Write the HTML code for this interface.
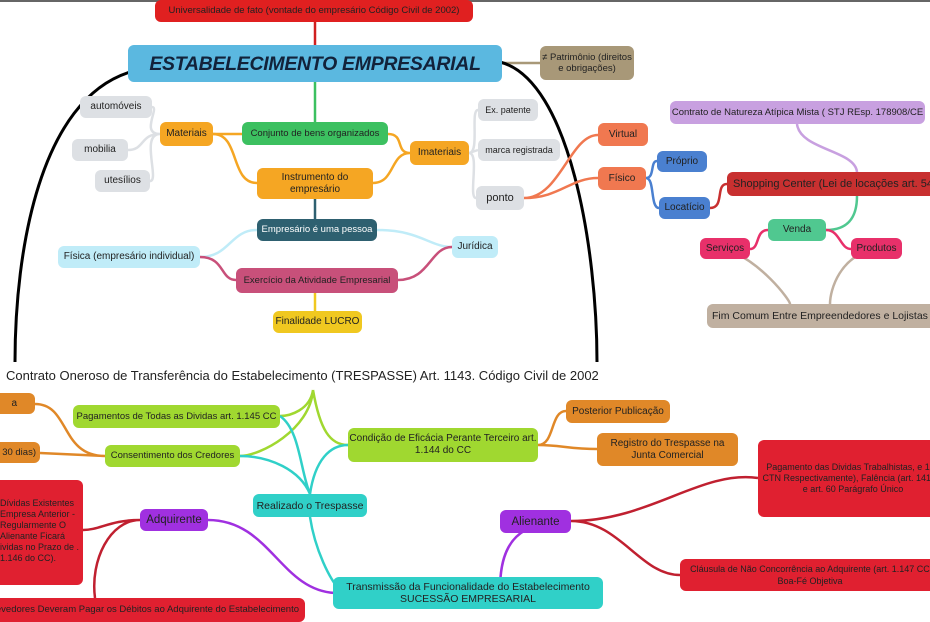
<!DOCTYPE html>
<html><head><meta charset="utf-8"><style>
html,body{margin:0;padding:0}
body{width:930px;height:620px;position:relative;overflow:hidden;background:#fff;font-family:"Liberation Sans",sans-serif}
.n{position:absolute;box-sizing:border-box;border-radius:6px;display:flex;align-items:center;justify-content:center;text-align:center;font-size:10px;line-height:12px;color:#222;white-space:nowrap;overflow:hidden}
svg{position:absolute;left:0;top:0}
</style></head><body>
<div style="position:absolute;left:0;top:0;width:930px;height:2px;background:#666"></div>
<svg width="930" height="620" fill="none" stroke-width="2.5">
<path d="M315 22 L315 46" stroke="#d02020"/>
<path d="M502 63 L540 63" stroke="#a89878"/>
<path d="M130 72 C40 100 15 250 15 362" stroke="#000" stroke-width="3"/>
<path d="M500 62 C570 80 597 250 597 362" stroke="#000" stroke-width="3"/>
<path d="M315 82 L315 122" stroke="#3cc060"/>
<path d="M315 199 L315 219" stroke="#2e6070"/>
<path d="M213 134 L242 134" stroke="#f5a623"/>
<path d="M213 134 C240 134 230 183 257 183" stroke="#f5a623"/>
<path d="M160 134 C140 134 160 107 152 107 M160 134 C140 134 145 150 128 150 M160 134 C140 134 160 181 150 181" stroke="#dde0e4"/>
<path d="M388 134 C405 134 395 153 410 153 M373 183 C395 183 390 153 410 153" stroke="#f5a623"/>
<path d="M469 153 C480 153 470 110 478 110 M469 153 L478 150 M469 153 C480 153 468 198 476 198" stroke="#dde0e4"/>
<path d="M524 198 C560 198 570 135 598 135 M524 198 C560 198 570 178 598 178" stroke="#f07850"/>
<path d="M646 178 C655 178 650 161 657 161 M646 178 C655 178 650 208 659 208" stroke="#4a80d0"/>
<path d="M710 208 C725 208 715 184 727 184" stroke="#c83030"/>
<path d="M797 124 C800 150 855 150 857 172" stroke="#c8a0e0"/>
<path d="M826 230 C850 230 857 215 857 196" stroke="#50c890"/>
<path d="M768 230 C755 230 760 249 750 249 M826 230 C840 230 840 249 851 249" stroke="#e8306a"/>
<path d="M725 249 C760 260 790 300 790 304 M876 249 C840 255 830 290 830 304" stroke="#c0b0a0"/>
<path d="M200 257 C230 257 230 230 257 230 M377 230 C420 230 430 247 452 247" stroke="#c0ecf8"/>
<path d="M200 257 C225 257 220 280 236 280 M398 280 C430 280 430 247 452 247" stroke="#c8507a"/>
<path d="M315 293 L315 311" stroke="#f0c820"/>
<path d="M313 390 C310 410 290 416 280 416 M313 390 C310 430 260 456 240 456 M313 390 C320 430 330 445 348 445" stroke="#a0d830"/>
<path d="M105 456 C60 456 70 404 35 404 M105 456 L40 453" stroke="#e08828"/>
<path d="M538 445 C555 445 550 411 566 411 M538 445 C560 445 570 449 597 449" stroke="#e08828"/>
<path d="M310 494 C300 470 300 430 280 416 M310 494 C300 470 270 456 240 456 M310 494 C315 460 330 445 348 445 M310 517 C315 550 330 580 340 590" stroke="#30d0c8"/>
<path d="M208 520 C270 520 280 590 335 593" stroke="#a030e0"/>
<path d="M571 521 C520 521 500 540 500 590 L470 593" stroke="#a030e0"/>
<path d="M140 520 C110 520 100 530 83 530 M140 520 C110 520 90 560 95 598" stroke="#c02030"/>
<path d="M571 521 C650 521 700 470 758 478 M571 521 C620 521 640 575 680 575" stroke="#c02030"/>
</svg>
<div class="n" style="left:155px;top:0;width:318px;height:22px;background:#e02020;font-size:9.5px">Universalidade de fato (vontade do empresário Código Civil de 2002)</div>
<div class="n" style="left:128px;top:45px;width:374px;height:37px;background:#5bb8e0;font-size:19.5px;font-weight:bold;font-style:italic;color:#12223a;letter-spacing:-0.3px">ESTABELECIMENTO EMPRESARIAL</div>
<div class="n" style="left:540px;top:46px;width:94px;height:34px;background:#a89878;white-space:normal;font-size:9.5px;line-height:11px">≠ Patrimônio (direitos e obrigações)</div>
<div class="n" style="left:80px;top:96px;width:72px;height:22px;background:#dde0e4">automóveis</div>
<div class="n" style="left:72px;top:139px;width:56px;height:22px;background:#dde0e4">mobilia</div>
<div class="n" style="left:95px;top:170px;width:55px;height:22px;background:#dde0e4">utesílios</div>
<div class="n" style="left:160px;top:122px;width:53px;height:24px;background:#f5a623">Materiais</div>
<div class="n" style="left:242px;top:122px;width:146px;height:23px;background:#3cc060;font-size:9.5px">Conjunto de bens organizados</div>
<div class="n" style="left:410px;top:141px;width:59px;height:24px;background:#f5a623">Imateriais</div>
<div class="n" style="left:257px;top:168px;width:116px;height:31px;background:#f5a623;white-space:normal">Instrumento do empresário</div>
<div class="n" style="left:478px;top:99px;width:60px;height:22px;background:#dde0e4;font-size:9px">Ex. patente</div>
<div class="n" style="left:478px;top:139px;width:82px;height:22px;background:#dde0e4;font-size:9px">marca registrada</div>
<div class="n" style="left:476px;top:186px;width:48px;height:24px;background:#dde0e4;font-size:11px">ponto</div>
<div class="n" style="left:598px;top:123px;width:50px;height:23px;background:#f07850">Virtual</div>
<div class="n" style="left:598px;top:167px;width:48px;height:23px;background:#f07850">Físico</div>
<div class="n" style="left:657px;top:151px;width:50px;height:21px;background:#4a80d0">Próprio</div>
<div class="n" style="left:659px;top:197px;width:51px;height:22px;background:#4a80d0">Locatício</div>
<div class="n" style="left:670px;top:101px;width:255px;height:23px;background:#c8a0e0;font-size:9.5px">Contrato de Natureza Atípica Mista ( STJ REsp. 178908/CE</div>
<div class="n" style="left:727px;top:172px;width:210px;height:24px;background:#c83030;font-size:11px;justify-content:flex-start;padding-left:6px">Shopping Center (Lei de locações art. 54</div>
<div class="n" style="left:768px;top:219px;width:58px;height:22px;background:#50c890">Venda</div>
<div class="n" style="left:700px;top:238px;width:50px;height:21px;background:#e8306a">Serviços</div>
<div class="n" style="left:851px;top:238px;width:51px;height:21px;background:#e8306a">Produtos</div>
<div class="n" style="left:707px;top:304px;width:230px;height:24px;background:#c0b0a0;font-size:10.5px;justify-content:flex-start;padding-left:5px">Fim Comum Entre Empreendedores e Lojistas</div>
<div class="n" style="left:257px;top:219px;width:120px;height:22px;background:#2e6070;color:#fff;font-size:9.5px">Empresário é uma pessoa</div>
<div class="n" style="left:58px;top:246px;width:142px;height:22px;background:#c0ecf8">Física (empresário individual)</div>
<div class="n" style="left:452px;top:236px;width:46px;height:22px;background:#c0ecf8">Jurídica</div>
<div class="n" style="left:236px;top:268px;width:162px;height:25px;background:#c8507a;font-size:9.5px">Exercício da Atividade Empresarial</div>
<div class="n" style="left:273px;top:311px;width:89px;height:22px;background:#f0c820">Finalidade LUCRO</div>
<div style="position:absolute;left:6px;top:368px;font-size:13px;color:#222;white-space:nowrap">Contrato Oneroso de Transferência do Estabelecimento (TRESPASSE) Art. 1143. Código Civil de 2002</div>
<div class="n" style="left:-10px;top:393px;width:45px;height:21px;background:#e08828;justify-content:flex-end;padding-right:18px">a</div>
<div class="n" style="left:-10px;top:442px;width:50px;height:21px;background:#e08828;justify-content:flex-end;padding-right:4px;font-size:9.5px">30 dias)</div>
<div class="n" style="left:73px;top:405px;width:207px;height:23px;background:#a0d830;font-size:9.5px">Pagamentos de Todas as Dividas art. 1.145 CC</div>
<div class="n" style="left:105px;top:445px;width:135px;height:22px;background:#a0d830;font-size:9.5px">Consentimento dos Credores</div>
<div class="n" style="left:348px;top:428px;width:190px;height:34px;background:#a0d830;white-space:normal">Condição de Eficácia Perante Terceiro art. 1.144 do CC</div>
<div class="n" style="left:566px;top:400px;width:104px;height:23px;background:#e08828">Posterior Publicação</div>
<div class="n" style="left:597px;top:433px;width:141px;height:33px;background:#e08828;white-space:normal">Registro do Trespasse na Junta Comercial</div>
<div class="n" style="left:253px;top:494px;width:114px;height:23px;background:#30d0c8;font-size:10.5px">Realizado o Trespasse</div>
<div class="n" style="left:-10px;top:480px;width:93px;height:105px;background:#e02030;white-space:normal;text-align:left;justify-content:flex-start;align-items:flex-start;padding:18px 0 0 10px;font-size:9px;line-height:11px">Dívidas Existentes Empresa Anterior - Regularmente O Alienante Ficará ividas no Prazo de . 1.146 do CC).</div>
<div class="n" style="left:140px;top:509px;width:68px;height:22px;background:#a030e0;font-size:11.5px">Adquirente</div>
<div class="n" style="left:500px;top:510px;width:71px;height:23px;background:#a030e0;font-size:11.5px">Alienante</div>
<div class="n" style="left:758px;top:440px;width:190px;height:77px;background:#e02030;white-space:normal;font-size:9px;line-height:11px;padding:0 4px">Pagamento das Dividas Trabalhistas, e 133 CTN Respectivamente), Falência (art. 141, II; e art. 60 Parágrafo Único</div>
<div class="n" style="left:680px;top:559px;width:260px;height:32px;background:#e02030;white-space:normal;font-size:9px">Cláusula de Não Concorrência ao Adquirente (art. 1.147 CC Boa-Fé Objetiva</div>
<div class="n" style="left:333px;top:577px;width:270px;height:32px;background:#30d0c8;white-space:normal;font-size:10.5px">Transmissão da Funcionalidade do Estabelecimento SUCESSÃO EMPRESARIAL</div>
<div class="n" style="left:-10px;top:598px;width:315px;height:24px;background:#e02030;justify-content:flex-end;padding-right:6px;font-size:9.5px">evedores Deveram Pagar os Débitos ao Adquirente do Estabelecimento</div>
</body></html>
